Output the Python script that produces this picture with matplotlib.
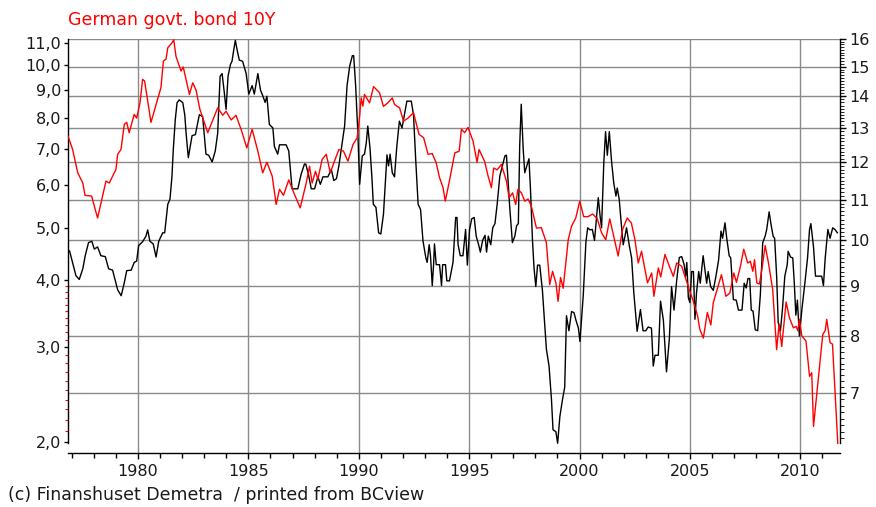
import matplotlib
matplotlib.use("Agg")
import matplotlib.pyplot as plt
import numpy as np
from matplotlib.ticker import FixedLocator, NullFormatter

# German govt. bond 10Y (left, log) against a second series (right, log)

bund_years = [1976.83, 1977.04, 1977.27, 1977.5, 1977.6, 1977.9, 1978.17, 1978.55, 1978.7, 1979.0,
              1979.08, 1979.23, 1979.38, 1979.49, 1979.6, 1979.83, 1979.94, 1980.09, 1980.21, 1980.3,
              1980.59, 1980.82, 1981.04, 1981.15, 1981.27, 1981.35, 1981.54, 1981.62, 1981.72, 1981.95,
              1982.05, 1982.33, 1982.48, 1982.63, 1982.8, 1983.16, 1983.46, 1983.61, 1983.84, 1983.99,
              1984.22, 1984.44, 1984.67, 1984.93, 1985.17, 1985.43, 1985.65, 1985.84, 1986.08, 1986.26,
              1986.41, 1986.59, 1986.83, 1987.09, 1987.35, 1987.62, 1987.77, 1987.89, 1988.04, 1988.15,
              1988.34, 1988.53, 1988.71, 1988.9, 1989.1, 1989.31, 1989.51, 1989.74, 1989.93, 1990.04,
              1990.11, 1990.19, 1990.26, 1990.49, 1990.67, 1990.94, 1991.12, 1991.32, 1991.52, 1991.62,
              1991.85, 1992.03, 1992.23, 1992.48, 1992.73, 1992.94, 1993.14, 1993.33, 1993.51, 1993.66,
              1993.82, 1993.92, 1994.12, 1994.35, 1994.55, 1994.65, 1994.8, 1994.95, 1995.18, 1995.36,
              1995.45, 1995.7, 1995.86, 1996.01, 1996.11, 1996.27, 1996.46, 1996.69, 1996.81, 1996.97,
              1997.11, 1997.21, 1997.37, 1997.52, 1997.67, 1997.82, 1998.05, 1998.27, 1998.5, 1998.65,
              1998.78, 1998.93, 1999.03, 1999.14, 1999.26, 1999.49, 1999.64, 1999.83, 2000.01, 2000.19,
              2000.39, 2000.59, 2000.8, 2001.0, 2001.19, 2001.37, 2001.55, 2001.75, 2001.95, 2002.16,
              2002.35, 2002.51, 2002.66, 2002.81, 2003.08, 2003.27, 2003.37, 2003.57, 2003.68, 2003.87,
              2004.07, 2004.25, 2004.4, 2004.63, 2004.82, 2005.0, 2005.13, 2005.24, 2005.35, 2005.45,
              2005.61, 2005.79, 2005.95, 2006.06, 2006.21, 2006.33, 2006.43, 2006.63, 2006.81, 2006.99,
              2007.11, 2007.29, 2007.44, 2007.62, 2007.74, 2007.85, 2007.93, 2008.03, 2008.15, 2008.26,
              2008.41, 2008.56, 2008.75, 2008.93, 2009.04, 2009.16, 2009.36, 2009.51, 2009.69, 2009.81,
              2009.89, 2009.96, 2010.07, 2010.26, 2010.42, 2010.52, 2010.6, 2010.82, 2011.02, 2011.13,
              2011.2, 2011.35, 2011.46, 2011.7]
bund_vals = [7.39, 6.98, 6.32, 6.05, 5.74, 5.72, 5.21, 6.10, 6.05, 6.41,
             6.84, 6.98, 7.77, 7.84, 7.50, 8.11, 7.98, 8.52, 9.42, 9.35,
             7.84, 8.46, 9.09, 10.18, 10.27, 10.78, 11.01, 11.15, 10.40, 9.76,
             9.93, 8.83, 9.28, 9.00, 8.30, 7.50, 8.05, 8.34, 8.08, 8.22,
             7.92, 8.08, 7.61, 7.03, 7.61, 6.93, 6.32, 6.61, 6.23, 5.52,
             5.89, 5.74, 6.13, 5.76, 5.44, 6.05, 6.50, 6.05, 6.36, 6.15,
             6.69, 6.84, 6.32, 6.64, 6.98, 6.93, 6.64, 7.13, 7.34, 8.05,
             8.70, 8.40, 8.83, 8.52, 9.13, 8.90, 8.39, 8.52, 8.70, 8.46,
             8.34, 7.88, 7.98, 8.17, 7.45, 7.34, 6.84, 6.86, 6.59, 6.19,
             5.93, 5.60, 6.14, 6.88, 6.93, 7.61, 7.50, 7.67, 7.23, 6.61,
             6.98, 6.64, 6.23, 5.93, 6.45, 6.40, 6.55, 6.10, 5.68, 5.80,
             5.52, 5.89, 5.80, 5.60, 5.65, 5.48, 4.99, 5.00, 4.69, 3.92,
             4.15, 3.95, 3.65, 4.04, 3.86, 4.75, 5.03, 5.21, 5.60, 5.24,
             5.24, 5.30, 5.20, 4.89, 4.75, 5.19, 4.82, 4.43, 4.96, 5.21,
             5.10, 4.75, 4.30, 4.52, 3.95, 4.12, 3.73, 4.21, 4.05, 4.46,
             4.24, 4.06, 4.30, 4.24, 4.01, 3.81, 3.68, 3.55, 3.43, 3.24,
             3.12, 3.48, 3.30, 3.63, 3.81, 3.96, 4.09, 3.73, 3.78, 4.12,
             3.96, 4.24, 4.56, 4.30, 4.33, 4.15, 4.36, 3.95, 3.93, 4.18,
             4.63, 4.30, 3.84, 2.97, 3.31, 3.01, 3.64, 3.40, 3.26, 3.28,
             3.22, 3.38, 3.15, 3.08, 2.65, 2.69, 2.14, 2.63, 3.17, 3.22,
             3.38, 3.06, 3.04, 1.99]

other_years = [1976.81, 1976.9, 1977.04, 1977.19, 1977.34, 1977.5, 1977.61, 1977.76, 1977.91, 1978.02,
               1978.17, 1978.32, 1978.52, 1978.67, 1978.85, 1979.08, 1979.24, 1979.38, 1979.49, 1979.69,
               1979.83, 1979.94, 1980.03, 1980.21, 1980.36, 1980.44, 1980.54, 1980.69, 1980.82, 1980.94,
               1981.12, 1981.21, 1981.35, 1981.45, 1981.54, 1981.6, 1981.69, 1981.77, 1981.87, 1982.03,
               1982.12, 1982.18, 1982.28, 1982.36, 1982.45, 1982.6, 1982.78, 1982.93, 1983.08, 1983.2,
               1983.36, 1983.5, 1983.61, 1983.72, 1983.81, 1983.91, 1983.99, 1984.08, 1984.19, 1984.26,
               1984.34, 1984.41, 1984.49, 1984.59, 1984.74, 1984.9, 1985.02, 1985.17, 1985.27, 1985.43,
               1985.55, 1985.65, 1985.76, 1985.84, 1985.95, 1986.11, 1986.18, 1986.33, 1986.41, 1986.71,
               1986.83, 1986.98, 1987.24, 1987.39, 1987.54, 1987.6, 1987.72, 1987.85, 1988.0, 1988.15,
               1988.26, 1988.38, 1988.6, 1988.76, 1988.87, 1988.99, 1989.1, 1989.21, 1989.36, 1989.47,
               1989.59, 1989.71, 1989.77, 1989.86, 1989.96, 1990.04, 1990.16, 1990.26, 1990.34, 1990.41,
               1990.51, 1990.6, 1990.66, 1990.78, 1990.9, 1991.0, 1991.12, 1991.28, 1991.35, 1991.42,
               1991.52, 1991.62, 1991.72, 1991.84, 1991.96, 1992.07, 1992.18, 1992.38, 1992.48, 1992.58,
               1992.69, 1992.8, 1992.91, 1993.04, 1993.1, 1993.19, 1993.25, 1993.33, 1993.39, 1993.43,
               1993.51, 1993.66, 1993.75, 1993.8, 1993.93, 1993.99, 1994.11, 1994.27, 1994.39, 1994.45,
               1994.5, 1994.6, 1994.72, 1994.84, 1994.92, 1995.02, 1995.12, 1995.23, 1995.32, 1995.43,
               1995.51, 1995.61, 1995.72, 1995.79, 1995.87, 1995.98, 1996.07, 1996.17, 1996.27, 1996.39,
               1996.52, 1996.62, 1996.69, 1996.77, 1996.84, 1996.96, 1997.07, 1997.15, 1997.23, 1997.29,
               1997.36, 1997.45, 1997.52, 1997.63, 1997.71, 1997.78, 1997.87, 1997.94, 1998.02, 1998.1,
               1998.2, 1998.32, 1998.42, 1998.5, 1998.62, 1998.73, 1998.8, 1998.93, 1999.01, 1999.11,
               1999.23, 1999.33, 1999.41, 1999.52, 1999.64, 1999.75, 1999.84, 1999.95, 2000.02, 2000.17,
               2000.29, 2000.37, 2000.47, 2000.58, 2000.68, 2000.85, 2000.93, 2001.0, 2001.1, 2001.18,
               2001.26, 2001.35, 2001.45, 2001.55, 2001.65, 2001.71, 2001.8, 2001.9, 2001.98, 2002.06,
               2002.13, 2002.25, 2002.36, 2002.46, 2002.61, 2002.76, 2002.88, 2003.0, 2003.11, 2003.26,
               2003.34, 2003.42, 2003.57, 2003.67, 2003.8, 2003.94, 2004.07, 2004.17, 2004.28, 2004.4,
               2004.52, 2004.63, 2004.74, 2004.81, 2004.86, 2004.93, 2005.0, 2005.08, 2005.16, 2005.23,
               2005.3, 2005.4, 2005.47, 2005.6, 2005.68, 2005.76, 2005.83, 2005.94, 2006.06, 2006.18,
               2006.3, 2006.41, 2006.48, 2006.59, 2006.67, 2006.78, 2006.85, 2006.97, 2007.1, 2007.2,
               2007.36, 2007.46, 2007.55, 2007.63, 2007.71, 2007.78, 2007.86, 2007.96, 2008.07, 2008.19,
               2008.3, 2008.41, 2008.48, 2008.59, 2008.67, 2008.77, 2008.84, 2008.93, 2009.0, 2009.1,
               2009.19, 2009.3, 2009.41, 2009.45, 2009.56, 2009.66, 2009.73, 2009.8, 2009.87, 2009.96,
               2010.07, 2010.22, 2010.33, 2010.42, 2010.48, 2010.6, 2010.69, 2010.82, 2010.97, 2011.05,
               2011.13, 2011.25, 2011.35, 2011.47, 2011.57, 2011.68]
other_vals = [9.76, 9.76, 9.49, 9.21, 9.13, 9.36, 9.65, 9.95, 9.98, 9.80,
              9.85, 9.65, 9.63, 9.36, 9.33, 8.91, 8.79, 9.06, 9.32, 9.33,
              9.50, 9.53, 9.88, 9.97, 10.10, 10.25, 9.98, 9.92, 9.62, 9.98,
              10.18, 10.18, 10.88, 11.01, 11.62, 12.37, 13.26, 13.79, 13.88, 13.79,
              13.40, 12.84, 12.13, 12.42, 12.77, 12.80, 13.41, 13.35, 12.23, 12.20,
              12.01, 12.32, 12.84, 14.67, 14.76, 14.12, 13.58, 14.67, 15.08, 15.19,
              15.61, 15.95, 15.60, 15.23, 15.19, 14.76, 14.07, 14.35, 14.07, 14.76,
              14.20, 14.02, 13.80, 14.00, 13.11, 13.00, 12.45, 12.23, 12.50, 12.50,
              12.32, 11.28, 11.28, 11.67, 11.95, 11.95, 11.67, 11.28, 11.28, 11.60,
              11.40, 11.60, 11.60, 11.80, 11.50, 11.55, 11.90, 12.37, 13.06, 14.35,
              15.02, 15.39, 15.39, 14.35, 12.84, 11.40, 12.18, 12.23, 12.55, 13.06,
              12.40, 11.55, 10.88, 10.80, 10.18, 10.15, 10.63, 12.21, 11.90, 12.23,
              11.71, 11.60, 12.42, 13.21, 13.00, 13.41, 13.84, 13.84, 13.41, 12.08,
              10.88, 10.75, 9.99, 9.60, 9.50, 9.90, 9.65, 9.00, 9.45, 9.92,
              9.45, 9.45, 9.00, 9.45, 9.45, 9.10, 9.10, 9.50, 10.55, 10.55,
              9.90, 9.65, 9.65, 10.26, 9.44, 10.26, 10.52, 10.55, 10.10, 9.90,
              9.73, 10.00, 10.12, 9.73, 10.10, 9.90, 10.30, 10.40, 10.88, 11.62,
              11.94, 12.18, 12.20, 11.44, 10.80, 9.95, 10.10, 10.35, 10.40, 12.45,
              13.74, 12.37, 11.71, 11.94, 12.10, 11.26, 10.00, 9.38, 8.98, 9.44,
              9.44, 8.90, 8.26, 7.76, 7.46, 6.90, 6.43, 6.40, 6.23, 6.63,
              6.90, 7.10, 8.39, 8.10, 8.47, 8.45, 8.30, 8.15, 7.90, 8.80,
              9.96, 10.30, 10.25, 10.26, 10.00, 11.05, 10.60, 10.30, 11.98, 12.89,
              12.20, 12.89, 12.04, 11.44, 11.09, 11.30, 11.00, 10.35, 9.90, 10.10,
              10.30, 9.90, 9.60, 8.85, 8.09, 8.51, 8.10, 8.10, 8.17, 8.15,
              7.46, 7.65, 7.65, 8.68, 8.30, 7.36, 7.95, 8.98, 8.50, 9.10,
              9.61, 9.63, 9.45, 9.20, 9.50, 8.75, 8.65, 9.30, 9.30, 8.32,
              8.85, 9.30, 9.05, 9.65, 9.35, 9.05, 9.30, 8.98, 8.90, 9.20,
              9.55, 10.22, 10.05, 10.42, 10.05, 9.65, 9.60, 8.71, 8.70, 8.50,
              8.50, 9.05, 8.95, 9.15, 9.15, 8.50, 8.48, 8.12, 8.10, 8.80,
              9.95, 10.10, 10.26, 10.69, 10.40, 10.10, 10.05, 9.20, 8.26, 8.10,
              8.50, 9.20, 9.45, 9.75, 9.62, 9.60, 9.05, 8.40, 8.70, 8.00,
              8.50, 9.10, 9.60, 10.26, 10.40, 9.85, 9.20, 9.20, 9.20, 9.00,
              9.60, 10.26, 10.05, 10.30, 10.26, 10.18]

left_ticks = [2, 3, 4, 5, 6, 7, 8, 9, 10, 11]
right_ticks = [7, 8, 9, 10, 11, 12, 13, 14, 15, 16]
year_ticks = [1980, 1985, 1990, 1995, 2000, 2005, 2010]

plt.rcParams['font.family'] = ['DejaVu Sans']
txt = '#1a1a1a'
grid_col = '#8a8a8a'

fig = plt.figure(figsize=(8.76, 5.07), dpi=100)
W, H = 876.0, 507.0
ax = fig.add_axes([68 / W, 1 - 453 / H, (840 - 68) / W, (453 - 39) / H])
ax2 = ax.twinx()

# right hand scale (black series) on the main axes so the grid sits underneath
ax.set_yscale('log')
ax.set_ylim(6.09, 16.0)
ax.set_xlim(1976.83, 2011.8)
ax.plot(other_years, other_vals, color='black', lw=1.0, zorder=3)

ax.yaxis.tick_right()
ax.yaxis.set_major_locator(FixedLocator(right_ticks))
ax.yaxis.set_minor_locator(FixedLocator(np.round(np.arange(6.3, 16.0, 0.1), 1)))
ax.yaxis.set_minor_formatter(NullFormatter())
ax.set_yticklabels([str(v) for v in right_ticks])
ax.tick_params(axis='y', which='major', length=4, width=1, color='black',
               labelsize=11.5, labelcolor=txt, pad=3)
ax.tick_params(axis='y', which='minor', length=3, width=0.6, color='black')

ax.xaxis.set_major_locator(FixedLocator(year_ticks))
ax.xaxis.set_minor_locator(FixedLocator(range(1977, 2012)))
ax.set_xticklabels([str(y) for y in year_ticks])
ax.tick_params(axis='x', which='major', length=4.5, width=1, color='black',
               labelsize=11.5, labelcolor=txt, pad=3.5)
ax.tick_params(axis='x', which='minor', length=3.5, width=1, color='black')

ax.grid(True, which='major', color=grid_col, lw=1.0, zorder=0)
ax.set_axisbelow(True)

for s in ['top', 'left']:
    ax.spines[s].set_visible(False)
ax.spines['right'].set_bounds(6.23, 16.0)
ax.spines['right'].set_linewidth(1.0)
ax.spines['bottom'].set_linewidth(1.0)

# left hand scale: German 10Y bond
ax2.set_yscale('log')
ax2.set_ylim(1.91, 11.19)
ax2.plot(bund_years, bund_vals, color='red', lw=1.0, zorder=4)
ax2.yaxis.tick_left()
ax2.yaxis.set_major_locator(FixedLocator(left_ticks))
ax2.yaxis.set_minor_locator(FixedLocator(np.round(np.arange(2.1, 4.0, 0.1), 1)))
ax2.yaxis.set_minor_formatter(NullFormatter())
ax2.set_yticklabels([f"{v:.1f}".replace('.', ',') for v in left_ticks])
ax2.tick_params(axis='y', which='major', length=3, width=1, color='black',
                labelsize=11.5, labelcolor=txt, pad=2)
ax2.tick_params(axis='y', which='minor', length=2.5, width=0.8, color='red')
for s in ['top', 'right', 'bottom']:
    ax2.spines[s].set_visible(False)
ax2.spines['left'].set_visible(True)
ax2.spines['left'].set_bounds(1.99, 11.19)
ax2.spines['left'].set_linewidth(1.0)

fig.text(68 / W, 1 - 20 / H, "German govt. bond 10Y", color='red',
         fontsize=12.5, ha='left', va='center')
fig.text(8 / W, 1 - 495 / H, "(c) Finanshuset Demetra  / printed from BCview",
         color=txt, fontsize=12.5, ha='left', va='center')

fig.savefig('out.png', dpi=100)
